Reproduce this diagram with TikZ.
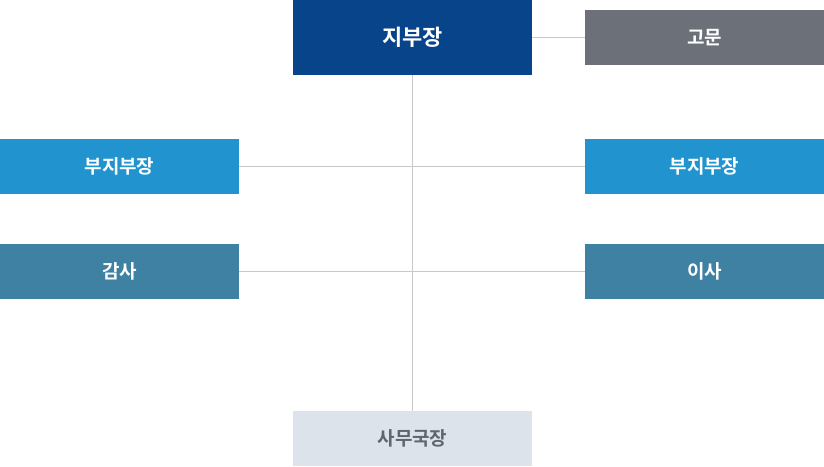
\documentclass[tikz,border=0pt]{standalone}
\usepackage{fontspec}
\setmainfont{Noto Sans CJK KR}[BoldFont={Noto Sans CJK KR Bold}]
\definecolor{headblue}{HTML}{08448A}
\definecolor{advgray}{HTML}{6B7079}
\definecolor{vpblue}{HTML}{2193CE}
\definecolor{boardteal}{HTML}{3E81A3}
\definecolor{officegray}{HTML}{DDE3EB}
\definecolor{officetext}{HTML}{5F6670}
\definecolor{linkgray}{HTML}{C8C8C8}
\tikzset{
  unit/.style={minimum width=239pt, minimum height=55pt, inner sep=0pt, text=white, font=\bfseries\fontsize{19pt}{22pt}\selectfont},
  link/.style={draw=linkgray, line width=1pt}
}
\begin{document}
\begin{tikzpicture}[x=1pt,y=1pt]
			\useasboundingbox (0,0) rectangle (824,-466);
			
			\node[unit, fill=headblue, minimum height=75pt, font=\bfseries\fontsize{22pt}{26pt}\selectfont] (head) at (412.5,-37.5) {지부장};
			\node[unit, fill=advgray] (adviser) at (704.5,-37.5) {고문};
			\node[unit, fill=vpblue] (vpleft) at (119.5,-166.5) {부지부장};
			\node[unit, fill=vpblue] (vpright) at (704.5,-166.5) {부지부장};
			\node[unit, fill=boardteal] (auditor) at (119.5,-271.5) {감사};
			\node[unit, fill=boardteal] (director) at (704.5,-271.5) {이사};
			\node[unit, fill=officegray, text=officetext] (office) at (412.5,-438.5) {사무국장};
			
			\draw[link] (head.east) -- (adviser.west);
			\draw[link] (head.south) -- (office.north);
			\draw[link] (vpleft.east) -- (vpright.west);
			\draw[link] (auditor.east) -- (director.west);
			
		\end{tikzpicture}
\end{document}
